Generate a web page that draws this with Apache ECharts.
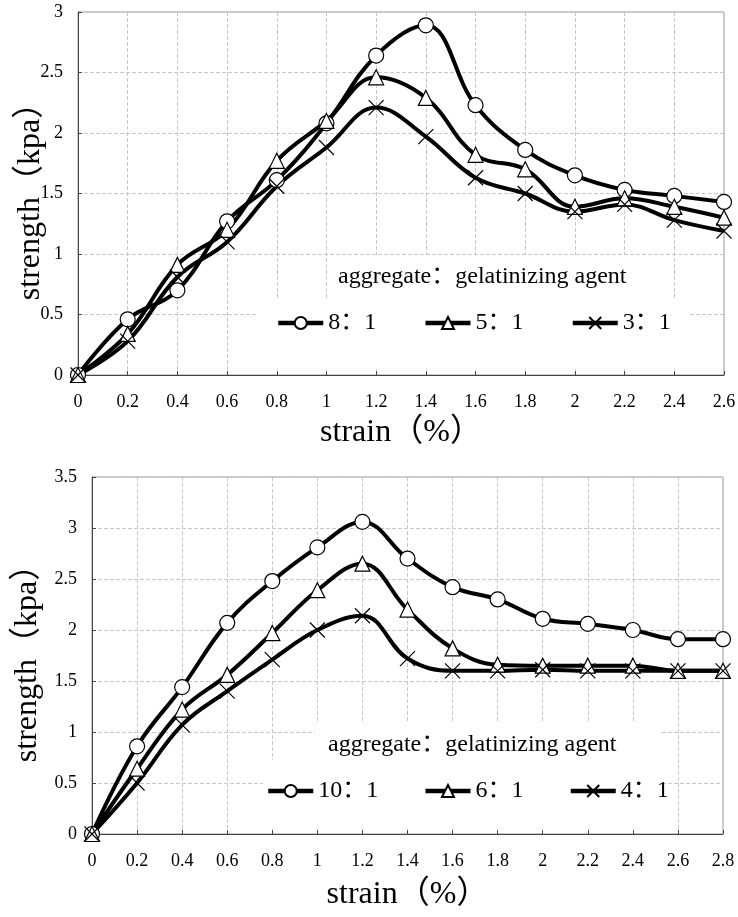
<!DOCTYPE html>
<html>
<head>
<meta charset="utf-8">
<script src="https://cdn.jsdelivr.net/npm/echarts@6/dist/echarts.min.js"></script>
<style>
html, body { margin: 0; padding: 0; background: #fff; }
#chartmain { width: 738px; height: 917px; }
</style>
</head>
<body>
<div id="chartmain"></div>
<script>
// upper chart, strain 0 - 2.6
var strainTop = [0, 0.2, 0.4, 0.6, 0.8, 1.0, 1.2, 1.4, 1.6, 1.8, 2.0, 2.2, 2.4, 2.6];
var s8 = [0, 0.46, 0.70, 1.27, 1.61, 2.08, 2.64, 2.89, 2.23, 1.86, 1.65, 1.53, 1.48, 1.43];
var s5 = [0, 0.34, 0.91, 1.20, 1.77, 2.10, 2.46, 2.29, 1.82, 1.70, 1.39, 1.46, 1.39, 1.30];
var s3 = [0, 0.28, 0.81, 1.10, 1.56, 1.88, 2.21, 1.97, 1.63, 1.50, 1.35, 1.41, 1.28, 1.19];
// lower chart, strain 0 - 2.8
var strainBot = [0, 0.2, 0.4, 0.6, 0.8, 1.0, 1.2, 1.4, 1.6, 1.8, 2.0, 2.2, 2.4, 2.6, 2.8];
var s10 = [0, 0.86, 1.44, 2.07, 2.48, 2.81, 3.06, 2.70, 2.42, 2.30, 2.11, 2.06, 2.00, 1.91, 1.91];
var s6 = [0, 0.64, 1.22, 1.56, 1.97, 2.39, 2.65, 2.20, 1.82, 1.66, 1.65, 1.65, 1.65, 1.60, 1.60];
var s4 = [0, 0.50, 1.07, 1.40, 1.71, 2.00, 2.14, 1.72, 1.60, 1.60, 1.61, 1.60, 1.60, 1.60, 1.60];

var namesTop = ['8：1', '5：1', '3：1'];
var namesBot = ['10：1', '6：1', '4：1'];
var legendTitle = 'aggregate：gelatinizing agent';

var serif = '"Liberation Serif", "Noto Sans CJK SC", serif';
var crossPath = 'path://M0,0L10,10M10,0L0,10';

function pairs(xs, ys) {
	var out = [];
	for (var i = 0; i < xs.length; i++) {
		out.push([xs[i], ys[i]]);
	}
	return out;
}

function lineSeries(name, idx, xs, ys, symbol) {
	return {
		name: name,
		type: 'line',
		xAxisIndex: idx,
		yAxisIndex: idx,
		data: pairs(xs, ys),
		smooth: 0.4,
		symbol: symbol,
		symbolSize: 15,
		showAllSymbol: true,
		lineStyle: { color: '#000', width: 4 },
		itemStyle: { color: '#fff', borderColor: '#000', borderWidth: 1.2 },
		emphasis: { disabled: true }
	};
}

function xAxisOf(idx, max, gap) {
	return {
		type: 'value',
		gridIndex: idx,
		min: 0,
		max: max,
		interval: 0.2,
		name: 'strain（%）',
		nameLocation: 'middle',
		nameGap: gap,
		nameMoveOverlap: false,
		nameTextStyle: { fontFamily: serif, fontSize: 32, color: '#000' },
		axisLine: { lineStyle: { color: '#444', width: 1 } },
		axisTick: { inside: true, length: 4, lineStyle: { color: '#444' } },
		axisLabel: { fontFamily: serif, fontSize: 18, color: '#000', margin: 18 },
		splitLine: { show: true, lineStyle: { color: '#c8c8c8', type: 'dashed', width: 1 } }
	};
}

function yAxisOf(idx, max, gap) {
	return {
		type: 'value',
		gridIndex: idx,
		min: 0,
		max: max,
		interval: 0.5,
		name: 'strength（kpa）',
		nameLocation: 'middle',
		nameGap: gap,
		nameMoveOverlap: false,
		nameTextStyle: { fontFamily: serif, fontSize: 32, color: '#000' },
		axisLine: { show: true, lineStyle: { color: '#444', width: 1 } },
		axisTick: { show: true, inside: true, length: 4, lineStyle: { color: '#444' } },
		axisLabel: { fontFamily: serif, fontSize: 18, color: '#000', margin: 15 },
		splitLine: { show: true, lineStyle: { color: '#c8c8c8', type: 'dashed', width: 1 } }
	};
}

function legendOf(names, left, top, gap) {
	return {
		data: names,
		left: left,
		top: top,
		itemWidth: 45,
		itemHeight: 15,
		itemGap: gap,
		selectedMode: false,
		lineStyle: { width: 4.5 },
		textStyle: { fontFamily: serif, fontSize: 24, color: '#000' }
	};
}

function whiteBox(x, y, w, h) {
	return { type: 'rect', z: 1, silent: true, shape: { x: x, y: y, width: w, height: h }, style: { fill: '#fff' } };
}

function label(x, y, text) {
	return {
		type: 'text', z: 5, silent: true, x: x, y: y,
		style: { text: text, fontFamily: serif, fontSize: 24, fill: '#000', verticalAlign: 'middle' }
	};
}

var option = {
	backgroundColor: '#fff',
	animation: false,
	grid: [
		{ left: 78, right: 14, top: 12, height: 363, show: true, borderColor: '#999', borderWidth: 1, outerBoundsMode: 'none' },
		{ left: 92, right: 15, top: 477, height: 357, show: true, borderColor: '#999', borderWidth: 1, outerBoundsMode: 'none' }
	],
	xAxis: [xAxisOf(0, 2.6, 42), xAxisOf(1, 2.8, 45)],
	yAxis: [yAxisOf(0, 3, 31), yAxisOf(1, 3.5, 48)],
	legend: [legendOf(namesTop, 271, 306, 47), legendOf(namesBot, 261, 774, 45)],
	graphic: [
		whiteBox(327, 255, 333, 46),
		whiteBox(257, 300, 433, 69),
		whiteBox(315, 722, 345, 40),
		whiteBox(263, 760, 397, 68),
		label(338, 277, legendTitle),
		label(328, 745, legendTitle)
	],
	series: [
		lineSeries(namesTop[0], 0, strainTop, s8, 'circle'),
		lineSeries(namesTop[1], 0, strainTop, s5, 'triangle'),
		lineSeries(namesTop[2], 0, strainTop, s3, crossPath),
		lineSeries(namesBot[0], 1, strainBot, s10, 'circle'),
		lineSeries(namesBot[1], 1, strainBot, s6, 'triangle'),
		lineSeries(namesBot[2], 1, strainBot, s4, crossPath)
	]
};

var myChart = echarts.init(document.getElementById('chartmain'));
myChart.setOption(option);
</script>
</body>
</html>
